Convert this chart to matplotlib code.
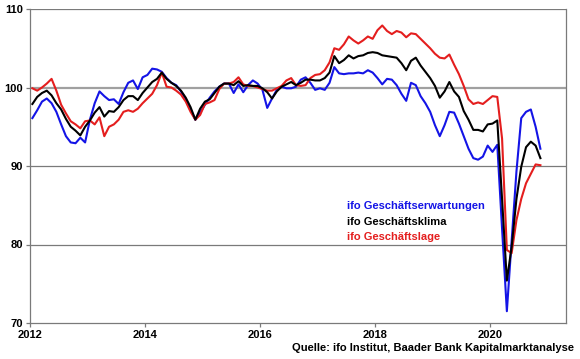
import matplotlib
matplotlib.use("Agg")

import matplotlib.pyplot as plt
import numpy as np

# monthly values, Jan 2012 .. Nov 2020 (2015 = 100)
klima = [97.9, 98.8, 99.3, 99.6, 99.0, 98.0, 97.2, 96.0, 95.0, 94.5, 93.9, 95.0,
         95.8, 96.8, 97.5, 96.3, 97.0, 96.9, 97.5, 98.4, 98.9, 98.9, 98.4, 99.3,
         100.0, 100.7, 101.1, 101.9, 101.1, 100.6, 100.2, 99.6, 98.7, 97.5, 95.9, 97.3,
         98.2, 98.5, 99.3, 100.1, 100.5, 100.5, 100.3, 100.8, 100.2, 100.3, 100.2, 100.2,
         99.9, 99.4, 98.6, 99.5, 100.1, 100.4, 100.7, 100.3, 100.6, 101.0, 101.0, 100.9,
         100.9, 101.2, 101.9, 104.0, 103.1, 103.5, 104.1, 103.7, 104.0, 104.1, 104.4, 104.5,
         104.4, 104.1, 104.0, 103.9, 103.8, 103.1, 102.2, 103.4, 103.8, 102.8, 102.0, 101.2,
         100.2, 98.7, 99.5, 100.7, 99.5, 98.8, 97.0, 95.9, 94.6, 94.6, 94.4, 95.3,
         95.4, 95.8, 85.8, 75.4, 79.7, 85.8, 89.9, 92.4, 93.1, 92.6, 91.0]

erwartungen = [96.1, 97.1, 98.2, 98.6, 98.0, 96.9, 95.3, 93.8, 93.0, 92.9, 93.6, 93.0,
               95.9, 98.0, 99.5, 98.9, 98.4, 98.5, 97.9, 99.4, 100.6, 100.9, 99.8, 101.3,
               101.6, 102.4, 102.3, 102.0, 101.2, 100.6, 100.3, 99.5, 98.5, 97.2, 95.9, 96.8,
               97.8, 98.7, 99.5, 100.1, 100.5, 100.5, 99.3, 100.4, 99.4, 100.3, 100.9, 100.5,
               99.7, 97.4, 98.6, 99.7, 100.1, 99.9, 99.9, 100.1, 101.0, 101.3, 100.6, 99.7,
               99.9, 99.7, 100.6, 102.6, 101.8, 101.7, 101.8, 101.8, 101.9, 101.8, 102.2, 101.9,
               101.2, 100.4, 101.1, 101.0, 100.3, 99.2, 98.3, 100.6, 100.3, 98.9, 98.0, 96.9,
               95.2, 93.8, 95.2, 96.9, 96.8, 95.4, 93.8, 92.2, 91.0, 90.8, 91.2, 92.6,
               91.8, 92.7, 82.0, 71.5, 80.5, 89.3, 96.1, 96.9, 97.2, 95.0, 92.2]

lage = [99.9, 99.6, 100.0, 100.5, 101.1, 99.6, 97.8, 96.7, 95.7, 95.3, 94.8, 95.7,
        95.8, 95.3, 96.2, 93.8, 95.0, 95.3, 95.9, 96.9, 97.1, 96.9, 97.3, 98.0,
        98.6, 99.2, 100.3, 101.9, 100.1, 100.0, 99.6, 99.1, 98.2, 96.9, 95.9, 96.5,
        97.9, 98.1, 98.4, 99.8, 100.5, 100.5, 100.7, 101.3, 100.4, 100.2, 100.2, 100.0,
        99.8, 99.6, 99.6, 99.9, 100.2, 100.9, 101.2, 100.3, 100.2, 100.3, 101.2, 101.6,
        101.7, 102.2, 103.2, 105.0, 104.8, 105.5, 106.5, 106.0, 105.6, 106.0, 106.5, 106.2,
        107.3, 107.9, 107.2, 106.8, 107.2, 107.0, 106.4, 106.9, 106.8, 106.2, 105.6, 105.0,
        104.3, 103.8, 103.7, 104.2, 102.9, 101.7, 100.2, 98.5, 97.9, 98.1, 97.9, 98.4,
        98.9, 98.8, 93.5, 79.3, 78.9, 83.1, 85.8, 87.8, 89.0, 90.2, 90.1]

year_ticks = [2012, 2014, 2016, 2018, 2020]
value_ticks = [70, 80, 90, 100, 110]
labels = ["ifo Geschäftserwartungen", "ifo Geschäftsklima", "ifo Geschäftslage"]
colors = ["#1414e6", "#000000", "#e41e1e"]

plt.rcParams["font.family"] = ["Liberation Sans", "DejaVu Sans"]
plt.rcParams["font.weight"] = "bold"

# mid-month positions
t = 2012 + (np.arange(len(klima)) + 0.5) / 12

fig = plt.figure(figsize=(5.8, 3.59), dpi=100)
ax = fig.add_axes([30 / 580, 36 / 359, 536 / 580, 314 / 359])

for v in value_ticks[1:]:
    if v == 100:
        ax.axhline(v, color="#a0a0a0", lw=1.6, zorder=1)
    else:
        ax.axhline(v, color="#7a7a7a", lw=0.9, zorder=1)

ax.plot(t, erwartungen, color=colors[0], lw=1.5, zorder=3)
ax.plot(t, lage, color=colors[2], lw=1.5, zorder=3)
ax.plot(t, klima, color=colors[1], lw=1.5, zorder=4)

ax.set_xlim(2012, 2021.32)
ax.set_ylim(70, 110)
ax.set_xticks(year_ticks)
ax.set_yticks(value_ticks)
ax.tick_params(axis="both", direction="out", length=3, width=0.9, color="#7a7a7a",
               labelsize=8, pad=2)
for lab in ax.get_xticklabels() + ax.get_yticklabels():
    lab.set_fontweight("bold")

for s in ["left", "bottom", "right"]:
    ax.spines[s].set_color("#7a7a7a")
    ax.spines[s].set_linewidth(0.9)
ax.spines["top"].set_visible(False)

# legend as coloured text
for k, (lab, c) in enumerate(zip(labels, colors)):
    ax.text(2017.51, 84.9 - 2.0 * k, lab, color=c, fontsize=8, fontweight="bold",
            va="center", ha="left")

fig.text(574 / 580, 1 - 348 / 359, "Quelle: ifo Institut, Baader Bank Kapitalmarktanalyse",
         ha="right", va="center", fontsize=8, fontweight="bold")

fig.savefig("out.png", dpi=100)
plt.close(fig)
